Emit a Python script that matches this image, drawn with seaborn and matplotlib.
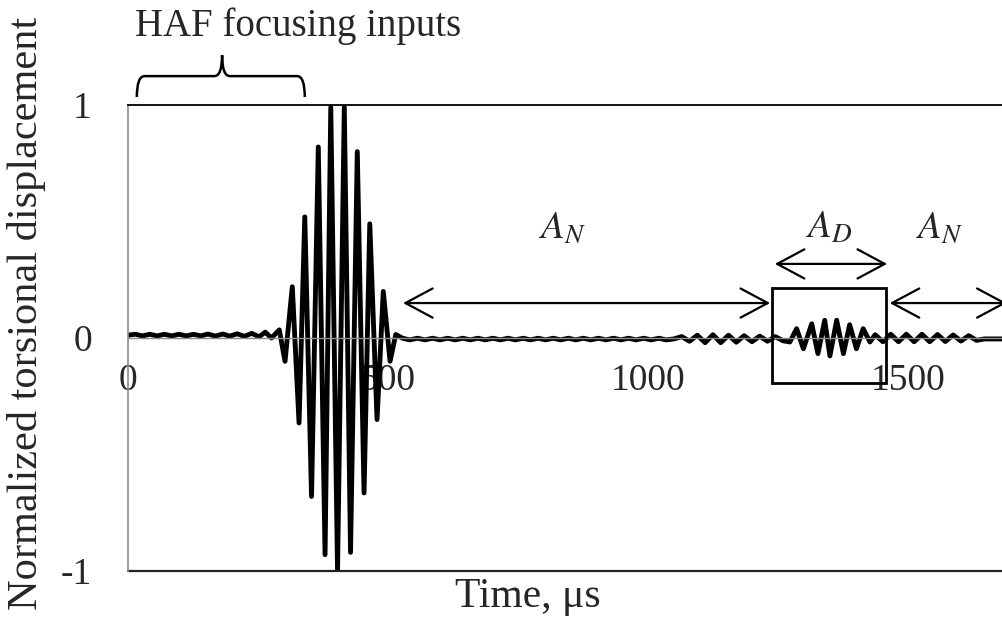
import numpy as np
import pandas as pd
import matplotlib
matplotlib.use("Agg")
import matplotlib.pyplot as plt
from matplotlib.patches import Rectangle, PathPatch
from matplotlib.path import Path
import matplotlib.transforms as mtransforms
import seaborn as sns

# waveform extrema (time in us, normalized displacement)
t_pre = [0, 14, 28, 42, 56, 70, 84, 98, 112, 126, 140, 154, 168, 182, 196,
         210, 224, 238, 252, 264, 276]
v_pre = [0.012, 0.016, 0.009, 0.016, 0.009, 0.016, 0.009, 0.016, 0.009, 0.016,
         0.009, 0.017, 0.008, 0.017, 0.008, 0.018, 0.007, 0.02, 0.005, 0.025, 0.0]

t_burst = [291, 302, 316, 329, 340, 353, 366, 379, 390, 403, 416, 428, 441,
           454, 465, 479, 491, 504, 515]
v_burst = [0.035, -0.10, 0.22, -0.365, 0.52, -0.68, 0.82, -0.93, 0.99, -1.0,
           0.99, -0.92, 0.80, -0.665, 0.49, -0.35, 0.20, -0.10, 0.015]

t_quiet = [528, 542, 557, 571, 586, 600, 615, 629, 644, 658, 673, 687, 702,
           716, 731, 745, 760, 774, 789, 803, 818, 832, 847, 861, 876, 890,
           905, 919, 934, 948, 963, 977, 992, 1006, 1021, 1035]
v_quiet = [-0.001, -0.008, -0.001, -0.008, -0.001, -0.008, -0.001, -0.008,
           -0.001, -0.008, -0.001, -0.008, -0.001, -0.008, -0.001, -0.008,
           -0.001, -0.008, -0.001, -0.008, -0.001, -0.008, -0.001, -0.008,
           -0.001, -0.008, -0.001, -0.008, -0.001, -0.008, -0.001, -0.008,
           -0.001, -0.008, -0.001, -0.008]

t_ripple = [1050, 1065, 1080, 1095, 1110, 1125, 1140, 1155, 1170, 1185, 1200,
            1215, 1230, 1245, 1260]
v_ripple = [-0.004, 0.006, -0.014, 0.012, -0.02, 0.014, -0.02, 0.012, -0.018,
            0.01, -0.016, 0.008, -0.014, 0.006, -0.012]

t_defect = [1273, 1286, 1299, 1315, 1327, 1340, 1350, 1363, 1376, 1388, 1401,
            1414, 1427, 1437]
v_defect = [-0.017, 0.04, -0.046, 0.061, -0.067, 0.076, -0.077, 0.076, -0.067,
            0.057, -0.046, 0.04, -0.017, 0.014]

t_post = [1452, 1467, 1482, 1497, 1512, 1527, 1542, 1557, 1572, 1587, 1602,
          1617, 1632, 1647, 1700]
v_post = [-0.016, 0.016, -0.016, 0.016, -0.016, 0.016, -0.016, 0.015, -0.015,
          0.013, -0.013, 0.01, -0.01, -0.004, -0.004]

xticks = [0, 500, 1000, 1500]
yticks = [-1, 0, 1]

df = pd.DataFrame({
    "time": t_pre + t_burst + t_quiet + t_ripple + t_defect + t_post,
    "disp": v_pre + v_burst + v_quiet + v_ripple + v_defect + v_post,
})

sns.set_style("white")
plt.rcParams["font.family"] = ["Liberation Serif", "DejaVu Serif"]
plt.rcParams["mathtext.fontset"] = "stix"

fig = plt.figure(figsize=(10.02, 6.21), dpi=100)
ax = fig.add_axes([128 / 1002, 50 / 621, 874 / 1002, 466 / 621])

sns.lineplot(data=df, x="time", y="disp", ax=ax, color="black", lw=3.5,
             estimator=None)

ax.set_xlim(0, 1681)
ax.set_ylim(-1, 1)
ax.set_xticks(xticks)
ax.set_yticks(yticks)
ax.set_xticklabels([str(v) for v in xticks])
ax.set_yticklabels([str(v) for v in yticks])
ax.tick_params(axis="x", length=0, pad=18, labelsize=27)
ax.tick_params(axis="y", length=0, pad=26, labelsize=27)
ax.set_xlabel("")
ax.set_ylabel("")

# x axis sits on zero, frame line at -1
ax.spines["bottom"].set_position(("data", 0))
ax.spines["bottom"].set_color("#8c8c8c")
ax.spines["bottom"].set_linewidth(1.0)
ax.spines["left"].set_color("#8c8c8c")
ax.spines["left"].set_linewidth(1.2)
ax.spines["right"].set_visible(False)
ax.spines["top"].set_color("black")
ax.spines["top"].set_linewidth(1.3)
ax.axhline(-1, color="#222222", lw=1.6, clip_on=False)

# defect window
ax.add_patch(Rectangle((1238, -0.193), 220, 0.408, fill=False,
                       edgecolor="black", lw=2, zorder=5))

arrow = dict(arrowstyle="<->,head_length=1.4,head_width=0.75", color="black",
             lw=1.6, shrinkA=0, shrinkB=0, mutation_scale=14)
ax.annotate("", xy=(529, 0.15), xytext=(1235, 0.15), arrowprops=arrow)
ax.annotate("", xy=(1244, 0.318), xytext=(1460, 0.318), arrowprops=arrow)
ax.annotate("", xy=(1465, 0.15), xytext=(1690, 0.15), arrowprops=arrow,
            annotation_clip=False)

ax.text(836, 0.47, "$A_N$", fontsize=28, ha="center", va="center")
ax.text(1350, 0.47, "$A_D$", fontsize=28, ha="center", va="center")
ax.text(1561, 0.47, "$A_N$", fontsize=28, ha="center", va="center")

# brace over the focusing inputs
trans = mtransforms.blended_transform_factory(ax.transData, ax.transAxes)
verts = [(17, 1.017), (17, 1.062), (32, 1.062),
         (166, 1.062), (181, 1.062), (181, 1.107),
         (181, 1.062), (196, 1.062),
         (325, 1.062), (340, 1.062), (340, 1.017)]
codes = [Path.MOVETO, Path.CURVE3, Path.CURVE3,
         Path.LINETO, Path.CURVE3, Path.CURVE3,
         Path.CURVE3, Path.CURVE3,
         Path.LINETO, Path.CURVE3, Path.CURVE3]
ax.add_patch(PathPatch(Path(verts, codes), transform=trans, fill=False,
                       edgecolor="black", lw=1.8, clip_on=False))

fig.text(135 / 1002, 1 - 36 / 621, "HAF focusing inputs", fontsize=28,
         ha="left", va="baseline")
fig.text(27 / 1002, 1 - 313 / 621, "Normalized torsional displacement",
         fontsize=30.5, rotation=90, ha="center", va="center")
fig.text(528 / 1002, 1 - 597 / 621, "Time, \u03bcs", fontsize=30,
         ha="center", va="center")

fig.savefig("out.png", dpi=100)
